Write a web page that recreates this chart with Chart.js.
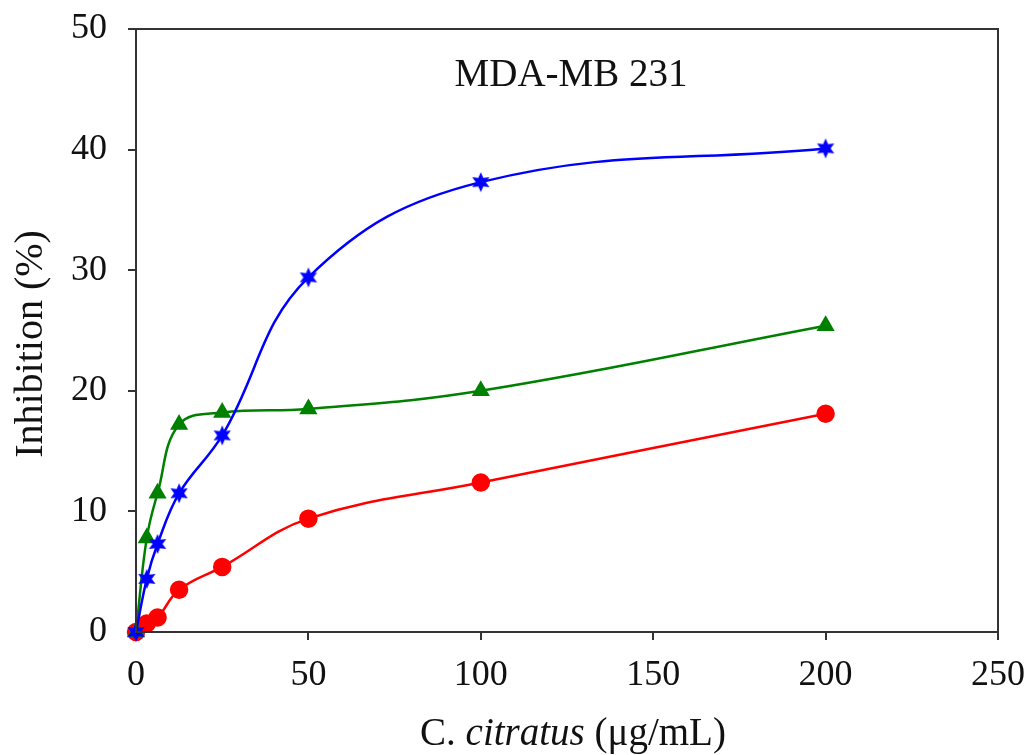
<!DOCTYPE html>
<html>
<head>
<meta charset="utf-8">
<script src="https://cdn.jsdelivr.net/npm/chart.js@4/dist/chart.umd.min.js"></script>
<style>
  body { margin: 0; background: #fff; }
  #wrap { width: 1030px; height: 755px; }
</style>
</head>
<body>
<div id="wrap"><canvas id="inhChart" width="1030" height="755"></canvas></div>
<script>
// concentrations (ug/mL)
const conc = [0, 3.125, 6.25, 12.5, 25, 50, 100, 200];
const redVals = [0, 0.7, 1.2, 3.5, 5.4, 9.4, 12.4, 18.1];
const greenVals = [0, 7.8, 11.5, 17.2, 18.2, 18.5, 20.0, 25.4];
const blueVals = [0, 4.4, 7.3, 11.5, 16.3, 29.4, 37.3, 40.1];
const xTicks = [0, 50, 100, 150, 200, 250];
const yTicks = [0, 10, 20, 30, 40, 50];

const FONT = "'Liberation Serif', 'DejaVu Serif', serif";
const AXIS = '#333';

function toPoints(vals) {
  return conc.map((c, i) => ({ x: c, y: vals[i] }));
}

// filled star marker
function starMarker(color, r) {
  const c = document.createElement('canvas');
  const s = Math.ceil(r * 2 + 2);
  c.width = s; c.height = s;
  const g = c.getContext('2d');
  g.translate(s / 2, s / 2);
  g.beginPath();
  for (let i = 0; i < 12; i++) {
    const rad = i % 2 === 0 ? r : r * 0.5;
    const a = -Math.PI / 2 + i * Math.PI / 6;
    g.lineTo(rad * Math.cos(a), rad * Math.sin(a));
  }
  g.closePath();
  g.fillStyle = color;
  g.fill();
  return c;
}

const frame = {
  id: 'frame',
  afterDraw(chart) {
    const { ctx, chartArea: a } = chart;
    ctx.save();
    ctx.strokeStyle = AXIS;
    ctx.lineWidth = 2;
    ctx.strokeRect(a.left, a.top, a.right - a.left, a.bottom - a.top);
    ctx.fillStyle = '#111';
    ctx.textAlign = 'center';
    ctx.textBaseline = 'middle';
    // inner title
    ctx.font = '39px ' + FONT;
    ctx.fillText('MDA-MB 231', (a.left + a.right) / 2 + 4, 76);
    // y axis title
    ctx.save();
    ctx.translate(31, 344);
    ctx.rotate(-Math.PI / 2);
    ctx.font = '40px ' + FONT;
    ctx.fillText('Inhibition (%)', 0, 0);
    ctx.restore();
    // x axis title, italic species name
    const part1 = 'C. ';
    const part2 = 'citratus';
    const part3 = ' (\u03bcg/mL)';
    ctx.font = '39px ' + FONT;
    const w1 = ctx.measureText(part1).width;
    const w3 = ctx.measureText(part3).width;
    ctx.font = 'italic 39px ' + FONT;
    const w2 = ctx.measureText(part2).width;
    let x = (a.left + a.right) / 2 + 6 - (w1 + w2 + w3) / 2;
    const y = 735;
    ctx.textAlign = 'left';
    ctx.font = '39px ' + FONT;
    ctx.fillText(part1, x, y);
    x += w1;
    ctx.font = 'italic 39px ' + FONT;
    ctx.fillText(part2, x, y);
    x += w2;
    ctx.font = '39px ' + FONT;
    ctx.fillText(part3, x, y);
    ctx.restore();
  }
};

const common = { borderWidth: 2.5, tension: 0.4, clip: false, pointHoverRadius: 8 };

new Chart(document.getElementById('inhChart'), {
  type: 'line',
  data: {
    datasets: [
      Object.assign({
        label: 'red', data: toPoints(redVals), borderColor: '#ff0000', backgroundColor: '#ff0000',
        pointStyle: 'circle', pointRadius: 8, order: 3
      }, common),
      Object.assign({
        label: 'green', data: toPoints(greenVals), borderColor: '#008000', backgroundColor: '#008000',
        pointStyle: 'triangle', pointRadius: 8, order: 2
      }, common),
      Object.assign({
        label: 'blue', data: toPoints(blueVals), borderColor: '#0000ff', backgroundColor: '#0000ff',
        pointStyle: starMarker('#0000ff', 10), pointRadius: 10, order: 1
      }, common)
    ]
  },
  options: {
    responsive: false,
    animation: false,
    layout: { padding: { left: 8, right: 32, top: 29, bottom: 0 } },
    plugins: { legend: { display: false }, tooltip: { enabled: false } },
    scales: {
      x: {
        type: 'linear', min: 0, max: 250,
        afterBuildTicks: s => { s.ticks = xTicks.map(v => ({ value: v })); },
        afterFit: s => { s.height = 123; s.paddingLeft = 0; s.paddingRight = 0; },
        grid: { drawOnChartArea: false, drawTicks: true, tickLength: 8, color: AXIS, lineWidth: 2 },
        border: { display: true, color: AXIS, width: 2 },
        ticks: { color: '#111', font: { family: FONT, size: 36 }, padding: 14, maxRotation: 0 }
      },
      y: {
        min: 0, max: 50,
        afterBuildTicks: s => { s.ticks = yTicks.map(v => ({ value: v })); },
        afterFit: s => { s.width = 128; s.paddingTop = 0; s.paddingBottom = 0; },
        grid: { drawOnChartArea: false, drawTicks: true, tickLength: 8, color: AXIS, lineWidth: 2 },
        border: { display: true, color: AXIS, width: 2 },
        ticks: { color: '#111', font: { family: FONT, size: 36 }, padding: 21 }
      }
    }
  },
  plugins: [frame]
});
</script>
</body>
</html>
